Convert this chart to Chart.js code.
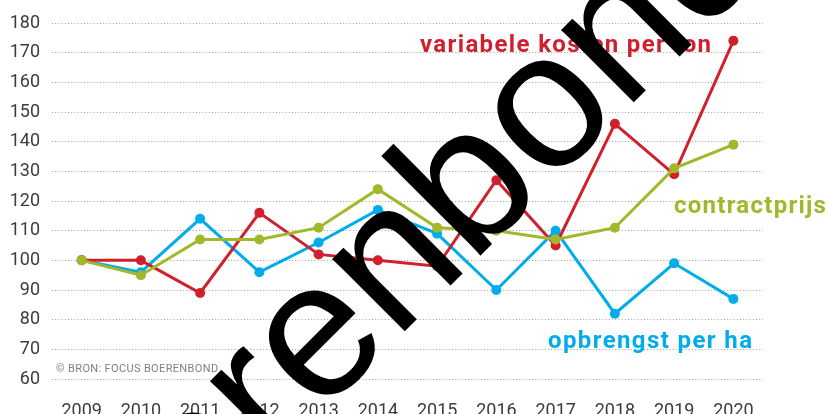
<!DOCTYPE html>
<html>
<head>
<meta charset="utf-8">
<script src="https://cdn.jsdelivr.net/npm/chart.js@4.4.1/dist/chart.umd.min.js"></script>
<style>
  html, body { margin: 0; padding: 0; background: #fff; }
  #wrap { width: 828px; height: 414px; position: relative; }
</style>
</head>
<body>
<div id="wrap"><canvas id="c" width="828" height="414"></canvas></div>
<script>
// Index (2009 = 100)
const years = ['2009', '2010', '2011', '2012', '2013', '2014', '2015', '2016', '2017', '2018', '2019', '2020']
const kostenPerTon = [100, 100, 89, 116, 102, 100, 98, 127, 105, 146, 129, 174]
const opbrengstPerHa = [100, 96, 114, 96, 106, 117, 109, 90, 110, 82, 99, 87]
const contractprijs = [100, 95, 107, 107, 111, 124, 111, 110, 107, 111, 131, 139]

const RED = '#d1202d'
const BLUE = '#00adea'
const GREEN = '#a1b82a'

// draw text from x and spread it so it ends at x + width
function spreadText(ctx, text, x, y, width) {
  ctx.letterSpacing = '0px'
  const w = ctx.measureText(text).width
  const gap = (width - w) / (text.length - 1)
  ctx.letterSpacing = gap.toFixed(2) + 'px'
  ctx.fillText(text, x, y)
  ctx.letterSpacing = '0px'
}

// series labels, source note and the big watermark on top
const overlay = {
  id: 'overlay',
  afterDraw(chart) {
    const ctx = chart.ctx
    ctx.save()
    ctx.textAlign = 'left'
    ctx.textBaseline = 'alphabetic'
    ctx.font = 'bold 24px Roboto'
    ctx.fillStyle = RED
    spreadText(ctx, 'variabele kosten per ton', 420, 52, 291)
    ctx.fillStyle = GREEN
    spreadText(ctx, 'contractprijs', 674, 213, 152)
    ctx.fillStyle = BLUE
    spreadText(ctx, 'opbrengst per ha', 548, 348, 204)

    ctx.font = '11px Roboto'
    ctx.fillStyle = '#808080'
    spreadText(ctx, '© BRON: FOCUS BOERENBOND', 56, 372, 162)

    // watermark
    ctx.translate(403, 333)
    ctx.rotate(-Math.PI / 4)
    ctx.textAlign = 'center'
    ctx.font = '194px "Liberation Sans"'
    ctx.fillStyle = '#000'
    ctx.fillText('Boerenbond', 0, 0)
    ctx.restore()
  }
}

const line = (data, color, order) => ({
  data,
  borderColor: color,
  backgroundColor: color,
  borderWidth: 3,
  pointRadius: 5,
  pointBorderWidth: 0,
  pointBackgroundColor: color,
  tension: 0,
  order
})

new Chart(document.getElementById('c'), {
  type: 'line',
  data: {
    labels: years,
    datasets: [
      line(opbrengstPerHa, BLUE, 2),
      line(kostenPerTon, RED, 1),
      line(contractprijs, GREEN, 0)
    ]
  },
  options: {
    responsive: false,
    animation: false,
    events: [],
    layout: { padding: { top: 23, right: 65, left: 0, bottom: 0 } },
    plugins: { legend: { display: false }, tooltip: { enabled: false } },
    scales: {
      x: {
        offset: true,
        grid: { display: false },
        border: { display: false },
        ticks: { color: '#3c3c3c', font: { family: 'Roboto', size: 18 }, padding: 14, maxRotation: 0 },
        afterFit: (s) => { s.height = 35 }
      },
      y: {
        min: 60,
        max: 180,
        // dotted horizontal grid
        border: { display: false, dash: [1, 2.2] },
        grid: { color: '#9a9a9a', lineWidth: 1, drawTicks: false },
        ticks: { stepSize: 10, color: '#3c3c3c', font: { family: 'Roboto', size: 18 }, padding: 12 },
        afterFit: (s) => { s.width = 52 }
      }
    }
  },
  plugins: [overlay]
})
</script>
</body>
</html>
